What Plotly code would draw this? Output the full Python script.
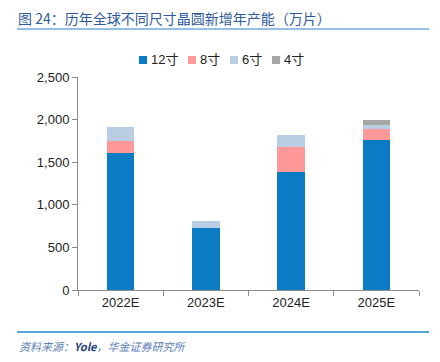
import plotly.graph_objects as go

categories = ["2022E", "2023E", "2024E", "2025E"]
series_names = ["12寸", "8寸", "6寸", "4寸"]
v12 = [1605, 730, 1380, 1760]
v8 = [145, 0, 300, 130]
v6 = [160, 80, 140, 50]
v4 = [0, 0, 0, 55]
series_values = [v12, v8, v6, v4]
colors = ["#0B7BC3", "#FF9999", "#B9CDE5", "#A6A6A6"]
y_ticks = [0, 500, 1000, 1500, 2000, 2500]

fig = go.Figure()
for name, vals, c in zip(series_names, series_values, colors):
    fig.add_trace(go.Bar(x=categories, y=vals, name=name, marker=dict(color=c, line=dict(width=0)),
                         width=0.32, showlegend=False))

OFF = 8  # default page body margin
W, H = 440 - OFF, 362 - OFF
# plot area in page pixel coordinates
PL, PR, PT, PB = 78, 419, 77, 290
ml, mr, mt, mb = PL - OFF, W - (PR - OFF), PT - OFF, H - (PB - OFF)

fig.update_layout(
    width=W, height=H, barmode="stack",
    margin=dict(l=ml, r=mr, t=mt, b=mb, autoexpand=False),
    paper_bgcolor="white", plot_bgcolor="white",
    font=dict(family="Liberation Sans, Arial, sans-serif", size=13, color="#222"),
    xaxis=dict(showline=True, linecolor="#8c8c8c", linewidth=1, ticks="outside", ticklen=5,
               tickcolor="#8c8c8c", tickson="boundaries", showgrid=False,
               tickfont=dict(size=13, color="#222")),
    yaxis=dict(range=[0, 2500], tickvals=y_ticks, tickformat=",", showline=True,
               linecolor="#8c8c8c", linewidth=1, ticks="outside", ticklen=5, tickcolor="#8c8c8c",
               showgrid=False, zeroline=False, tickfont=dict(size=13, color="#222")),
)

def pxd(x):
    return (x - PL) / (PR - PL)

def pyd(y):
    return (PB - y) / (PB - PT)

shapes = []
annotations = []
# custom legend
leg_x = [139, 188, 230, 272]
leg_y = 60
for name, c, x0 in zip(series_names, colors, leg_x):
    shapes.append(dict(type="rect", xref="paper", yref="paper",
                       x0=pxd(x0), x1=pxd(x0 + 8), y0=pyd(leg_y + 4), y1=pyd(leg_y - 4),
                       fillcolor=c, line=dict(width=0)))
    annotations.append(dict(text=name, xref="paper", yref="paper",
                            x=pxd(x0 + 10), y=pyd(leg_y),
                            xanchor="left", yanchor="middle", showarrow=False,
                            font=dict(size=13, color="#222", family="Liberation Sans, Noto Sans CJK SC")))

# title
annotations.append(dict(text="图 24：历年全球不同尺寸晶圆新增年产能（万片）", xref="paper", yref="paper",
                        x=pxd(17), y=pyd(17.5), xanchor="left", yanchor="middle", showarrow=False,
                        borderpad=0,
                        font=dict(size=14, color="#2E5A9C", family="Noto Sans CJK SC")))
shapes.append(dict(type="line", xref="paper", yref="paper", x0=pxd(17), x1=pxd(429),
                   y0=pyd(29), y1=pyd(29), line=dict(color="#6FA8DC", width=1.5)))
# footer
shapes.append(dict(type="line", xref="paper", yref="paper", x0=pxd(17), x1=pxd(429),
                   y0=pyd(332), y1=pyd(332), line=dict(color="#1E88D0", width=1.5)))
annotations.append(dict(text="<i>资料来源：</i><i><b style='color:#1F3F7A'>Yole</b></i><i>，华金证券研究所</i>",
                        xref="paper", yref="paper",
                        x=pxd(17), y=pyd(346), xanchor="left", yanchor="middle", showarrow=False,
                        font=dict(size=11, color="#5B7DB8", family="Noto Sans CJK SC")))

fig.update_layout(shapes=shapes, annotations=annotations)
fig.write_html("out.html")
